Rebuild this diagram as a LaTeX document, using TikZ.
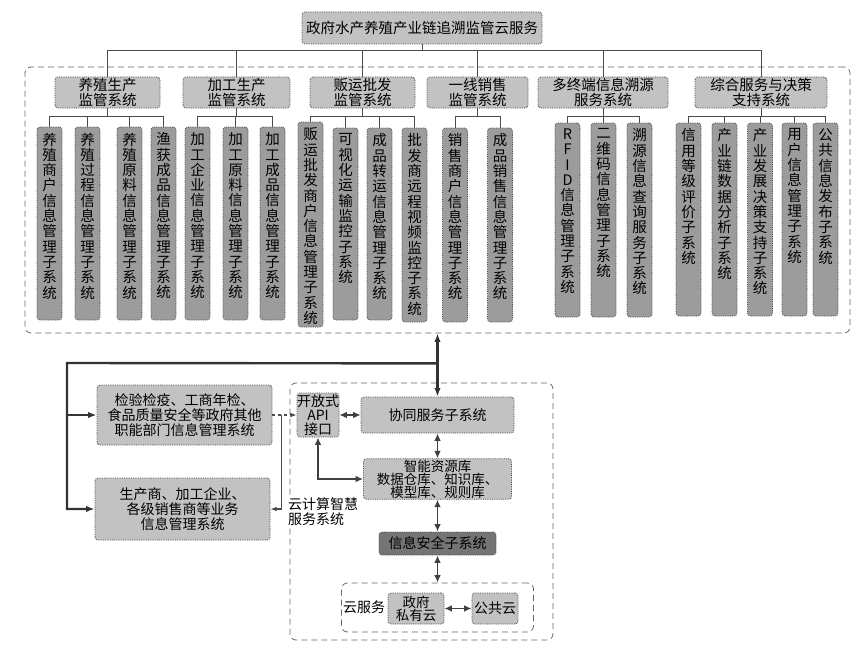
\documentclass[tikz,border=0pt]{standalone}
\usepackage{fontspec}
\setmainfont{Noto Sans CJK SC}
\usetikzlibrary{arrows.meta,positioning,calc}
\XeTeXlinebreaklocale "zh"
\XeTeXlinebreakskip=0pt plus 1pt
\definecolor{boxGray}{HTML}{C2C2C2}
\definecolor{subGray}{HTML}{9C9C9C}
\definecolor{secGray}{HTML}{747474}
\definecolor{lineGray}{HTML}{4B4B4B}
\tikzset{
titlebox/.style={rounded corners=3pt, draw=lineGray, densely dotted, line width=0.8pt, fill=boxGray, minimum width=240pt, minimum height=32pt, inner sep=1pt, font=\fontsize{14.5}{15}\selectfont},
catbox/.style={rounded corners=3pt, draw=lineGray, densely dotted, line width=0.8pt, fill=boxGray, minimum height=31pt, align=center, inner sep=1pt, font=\fontsize{14.5}{14.5}\selectfont},
subbox/.style={rounded corners=3pt, draw=lineGray, densely dotted, line width=0.8pt, fill=subGray, minimum width=25pt, inner sep=0pt},
vtext/.style={text width=15pt, align=center, inner sep=0pt, anchor=north, font=\fontsize{14.5}{15.3}\selectfont},
sysbox/.style={rounded corners=3pt, draw=lineGray, densely dotted, line width=0.8pt, fill=boxGray, align=center, inner sep=1pt, font=\fontsize{14}{15}\selectfont},
groupbox/.style={draw=black!60, dash pattern=on 6pt off 4pt, line width=0.8pt, rounded corners=6pt, inner sep=0pt},
tree/.style={draw=lineGray, line width=0.9pt},
bigline/.style={draw=black!80, line width=2.4pt},
dbl/.style={{Latex[length=2.6mm,width=2.3mm]}-{Latex[length=2.6mm,width=2.3mm]}, draw=black!75, line width=1.4pt}
}
\begin{document}
\begin{tikzpicture}[x=1pt,y=-1pt]
\useasboundingbox (0,0) rectangle (862,661);
% upper part: supervision systems
\node[groupbox, minimum width=825pt, minimum height=266pt] (bigbox) at (437.5,200) {};
\node[titlebox] (title) at (422,28) {政府水产养殖产业链追溯监管云服务};
\node[catbox, minimum width=105pt] (c1) at (107.5,92.5) {养殖生产\\监管系统};
\node[catbox, minimum width=107pt] (c2) at (236.5,92.5) {加工生产\\监管系统};
\node[catbox, minimum width=105pt] (c3) at (362.5,92.5) {贩运批发\\监管系统};
\node[catbox, minimum width=101pt] (c4) at (477.5,92.5) {一线销售\\监管系统};
\node[catbox, minimum width=130pt] (c5) at (603,92.5) {多终端信息溯源\\服务系统};
\node[catbox, minimum width=132pt] (c6) at (761,92.5) {综合服务与决策\\支持系统};
\foreach \c in {c1,c2,c3,c4,c5,c6}
  \draw[tree] (title.south) -- ++(0,6) -| (\c.north);
% vertical sub-systems
\foreach \n/\x/\t/\b/\txt in {
  s1/49.5/127/320/养殖商户信息管理子系统,
  s2/87.5/127/320/养殖过程信息管理子系统,
  s3/129.5/127/320/养殖原料信息管理子系统,
  s4/163.5/127/320/渔获成品信息管理子系统,
  s5/197.5/127/320/加工企业信息管理子系统,
  s6/235.5/127/320/加工原料信息管理子系统,
  s7/272.5/127/320/加工成品信息管理子系统,
  s8/310.5/122/327/贩运批发商户信息管理子系统,
  s9/345.5/128/320/可视化运输监控子系统,
  s10/379.5/128/320/成品转运信息管理子系统,
  s11/414.5/128/322/批发商远程视频监控子系统,
  s12/455/128/322/销售商户信息管理子系统,
  s13/500/128/322/成品销售信息管理子系统,
  s14/567.5/123/317/{R\\F\\I\\D\\信息管理子系统},
  s15/603.5/123/317/二维码信息管理子系统,
  s16/639.5/123/317/溯源信息查询服务子系统,
  s17/688.5/123/316/信用等级评价子系统,
  s18/724.5/123/316/产业链数据分析子系统,
  s19/760/123/316/产业发展决策支持子系统,
  s20/794.5/123/316/用户信息管理子系统,
  s21/825.5/123/316/公共信息发布子系统}{
  \node[subbox, minimum height={\b-\t}] (\n) at (\x,{(\t+\b)/2}) {};
  \node[vtext] (\n-t) at ([yshift=-6pt]\n.north) {\txt};
}
\foreach \c/\s in {c1/s1,c1/s2,c1/s3,c1/s4,c2/s5,c2/s6,c2/s7,c3/s8,c3/s9,c3/s10,c3/s11,
  c4/s12,c4/s13,c5/s14,c5/s15,c5/s16,c6/s17,c6/s18,c6/s19,c6/s20,c6/s21}
  \draw[tree] (\c.south) -- ++(0,8) -| (\s.north);
% lower part: cloud service system
\node[groupbox, minimum width=263pt, minimum height=257pt] (cloudsys) at (421.5,511.5) {};
\node[sysbox, minimum width=175pt, minimum height=60pt] (boxA) at (184.5,415) {检验检疫、工商年检、\\食品质量安全等政府其他\\职能部门信息管理系统};
\node[sysbox, minimum width=175pt, minimum height=62pt] (boxB) at (182.5,509) {生产商、加工企业、\\各级销售商等业务\\信息管理系统};
\node[sysbox, minimum width=40pt, minimum height=44pt, inner sep=0pt, font=\fontsize{14}{14}\selectfont] (api) at (318,415) {开放式\\API\\接口};
\node[sysbox, minimum width=153pt, minimum height=36pt] (co) at (437.5,415) {协同服务子系统};
\node[sysbox, minimum width=148pt, minimum height=38pt, font=\fontsize{13.5}{12.5}\selectfont] (res) at (437.5,479) {智能资源库\\数据仓库、知识库、\\模型库、规则库};
\node[anchor=north west, fill=white, align=left, inner sep=1pt, font=\fontsize{14}{15}\selectfont] (syslbl) at (287,496) {云计算智慧\\服务系统};
\node[sysbox, minimum width=117pt, minimum height=23pt, fill=secGray] (sec) at (437.5,543.5) {信息安全子系统};
\node[groupbox, minimum width=192pt, minimum height=49pt] (cloudbox) at (437.5,607.5) {};
\node[font=\fontsize{14}{15}\selectfont, inner sep=1pt] (cloudlbl) at (364,607) {云服务};
\node[sysbox, minimum width=56pt, minimum height=31pt, font=\fontsize{13.5}{13}\selectfont] (priv) at (416,608.5) {政府\\私有云};
\node[sysbox, minimum width=46pt, minimum height=31pt] (pub) at (495,608.5) {公共云};
% thick bus to the outside systems
\coordinate (jn) at ($(bigbox.south)+(0,30)$);
\coordinate (lft) at (67,363);
\draw[bigline, {Latex[length=3mm]}-{Latex[length=3mm]}] (bigbox.south) -- (co.north);
\draw[bigline, -{Latex[length=3mm]}] (jn) -- (lft) |- (boxB.west);
\draw[bigline, -{Latex[length=3mm]}] (lft |- boxA.west) -- (boxA.west);
% links inside
\coordinate (tap) at ($(boxA.east)!0.38!(api.west)$);
\draw[tree, dashed, line width=1.2pt, -{Latex[length=2.2mm]}] (boxA.east) -- (api.west);
\draw[tree, line width=1.2pt, -{Latex[length=2.2mm]}] (tap) |- (boxB.east);
\draw[dbl] (api.east) -- (co.west);
\draw[dbl] (co.south) -- (res.north);
\draw[dbl] (api.south) |- (res.west);
\draw[dbl] (res.south) -- (sec.north);
\draw[dbl] (sec.south) -- (cloudbox.north);
\draw[dbl] (priv.east) -- (pub.west);
\end{tikzpicture}
\end{document}
